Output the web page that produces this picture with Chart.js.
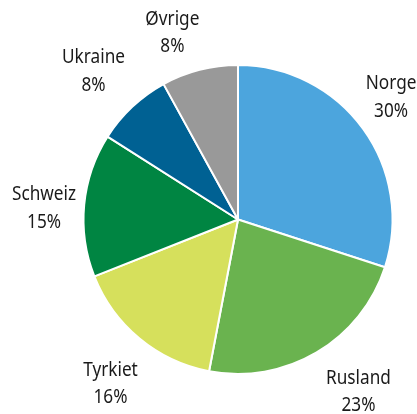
<!DOCTYPE html>
<html>
<head>
<meta charset="utf-8">
<script src="https://cdn.jsdelivr.net/npm/chart.js@4"></script>
<style>
  html, body { margin: 0; padding: 0; background: #fff; }
  #wrap { width: 417px; height: 414px; }
</style>
</head>
<body>
<div id="wrap"><canvas id="pie" width="417" height="414"></canvas></div>
<script>
var categories = ["Norge", "Rusland", "Tyrkiet", "Schweiz", "Ukraine", "Øvrige"];
var shares = [30, 23, 16, 15, 8, 8];
var colours = ["#4ca5dd", "#6ab34f", "#d6e05c", "#008542", "#006193", "#999999"];

// label anchors: degrees clockwise from 12 o'clock, and distance from the centre
var labelAngle = [51, 144.8, 218.1, 273.8, 316, 340.8];
var labelDist = [197, 209, 206.6, 194.4, 208, 199.6];

var labelFont = "20px 'Noto Sans', 'Open Sans', sans-serif";
var squeeze = 0.86;

var outsideLabels = {
    id: "outsideLabels",
    afterDraw: function(chart) {
        var ctx = chart.ctx;
        var arcs = chart.getDatasetMeta(0).data;
        ctx.save();
        ctx.font = labelFont;
        ctx.fillStyle = "#1a1a1a";
        ctx.textAlign = "center";
        ctx.textBaseline = "alphabetic";
        for (var i = 0; i < arcs.length; i++) {
            var a = arcs[i];
            var ang = labelAngle[i] * Math.PI / 180;
            var x = a.x + Math.sin(ang) * labelDist[i];
            var y = a.y - Math.cos(ang) * labelDist[i];
            ctx.save();
            ctx.translate(x, y);
            ctx.scale(squeeze, 1);
            ctx.fillText(categories[i], 0, -6.5);
            ctx.fillText(shares[i] + "%", 0, 21);
            ctx.restore();
        }
        ctx.restore();
    }
};

var chart = new Chart(document.getElementById("pie").getContext("2d"), {
    type: "pie",
    data: {
        labels: categories,
        datasets: [{
            data: shares,
            backgroundColor: colours,
            borderColor: "#ffffff",
            borderWidth: 2
        }]
    },
    options: {
        responsive: false,
        animation: false,
        layout: { padding: { left: 82, right: 23, top: 64, bottom: 39 } },
        plugins: {
            legend: { display: false },
            tooltip: { enabled: false }
        }
    },
    plugins: [outsideLabels]
});
</script>
</body>
</html>
